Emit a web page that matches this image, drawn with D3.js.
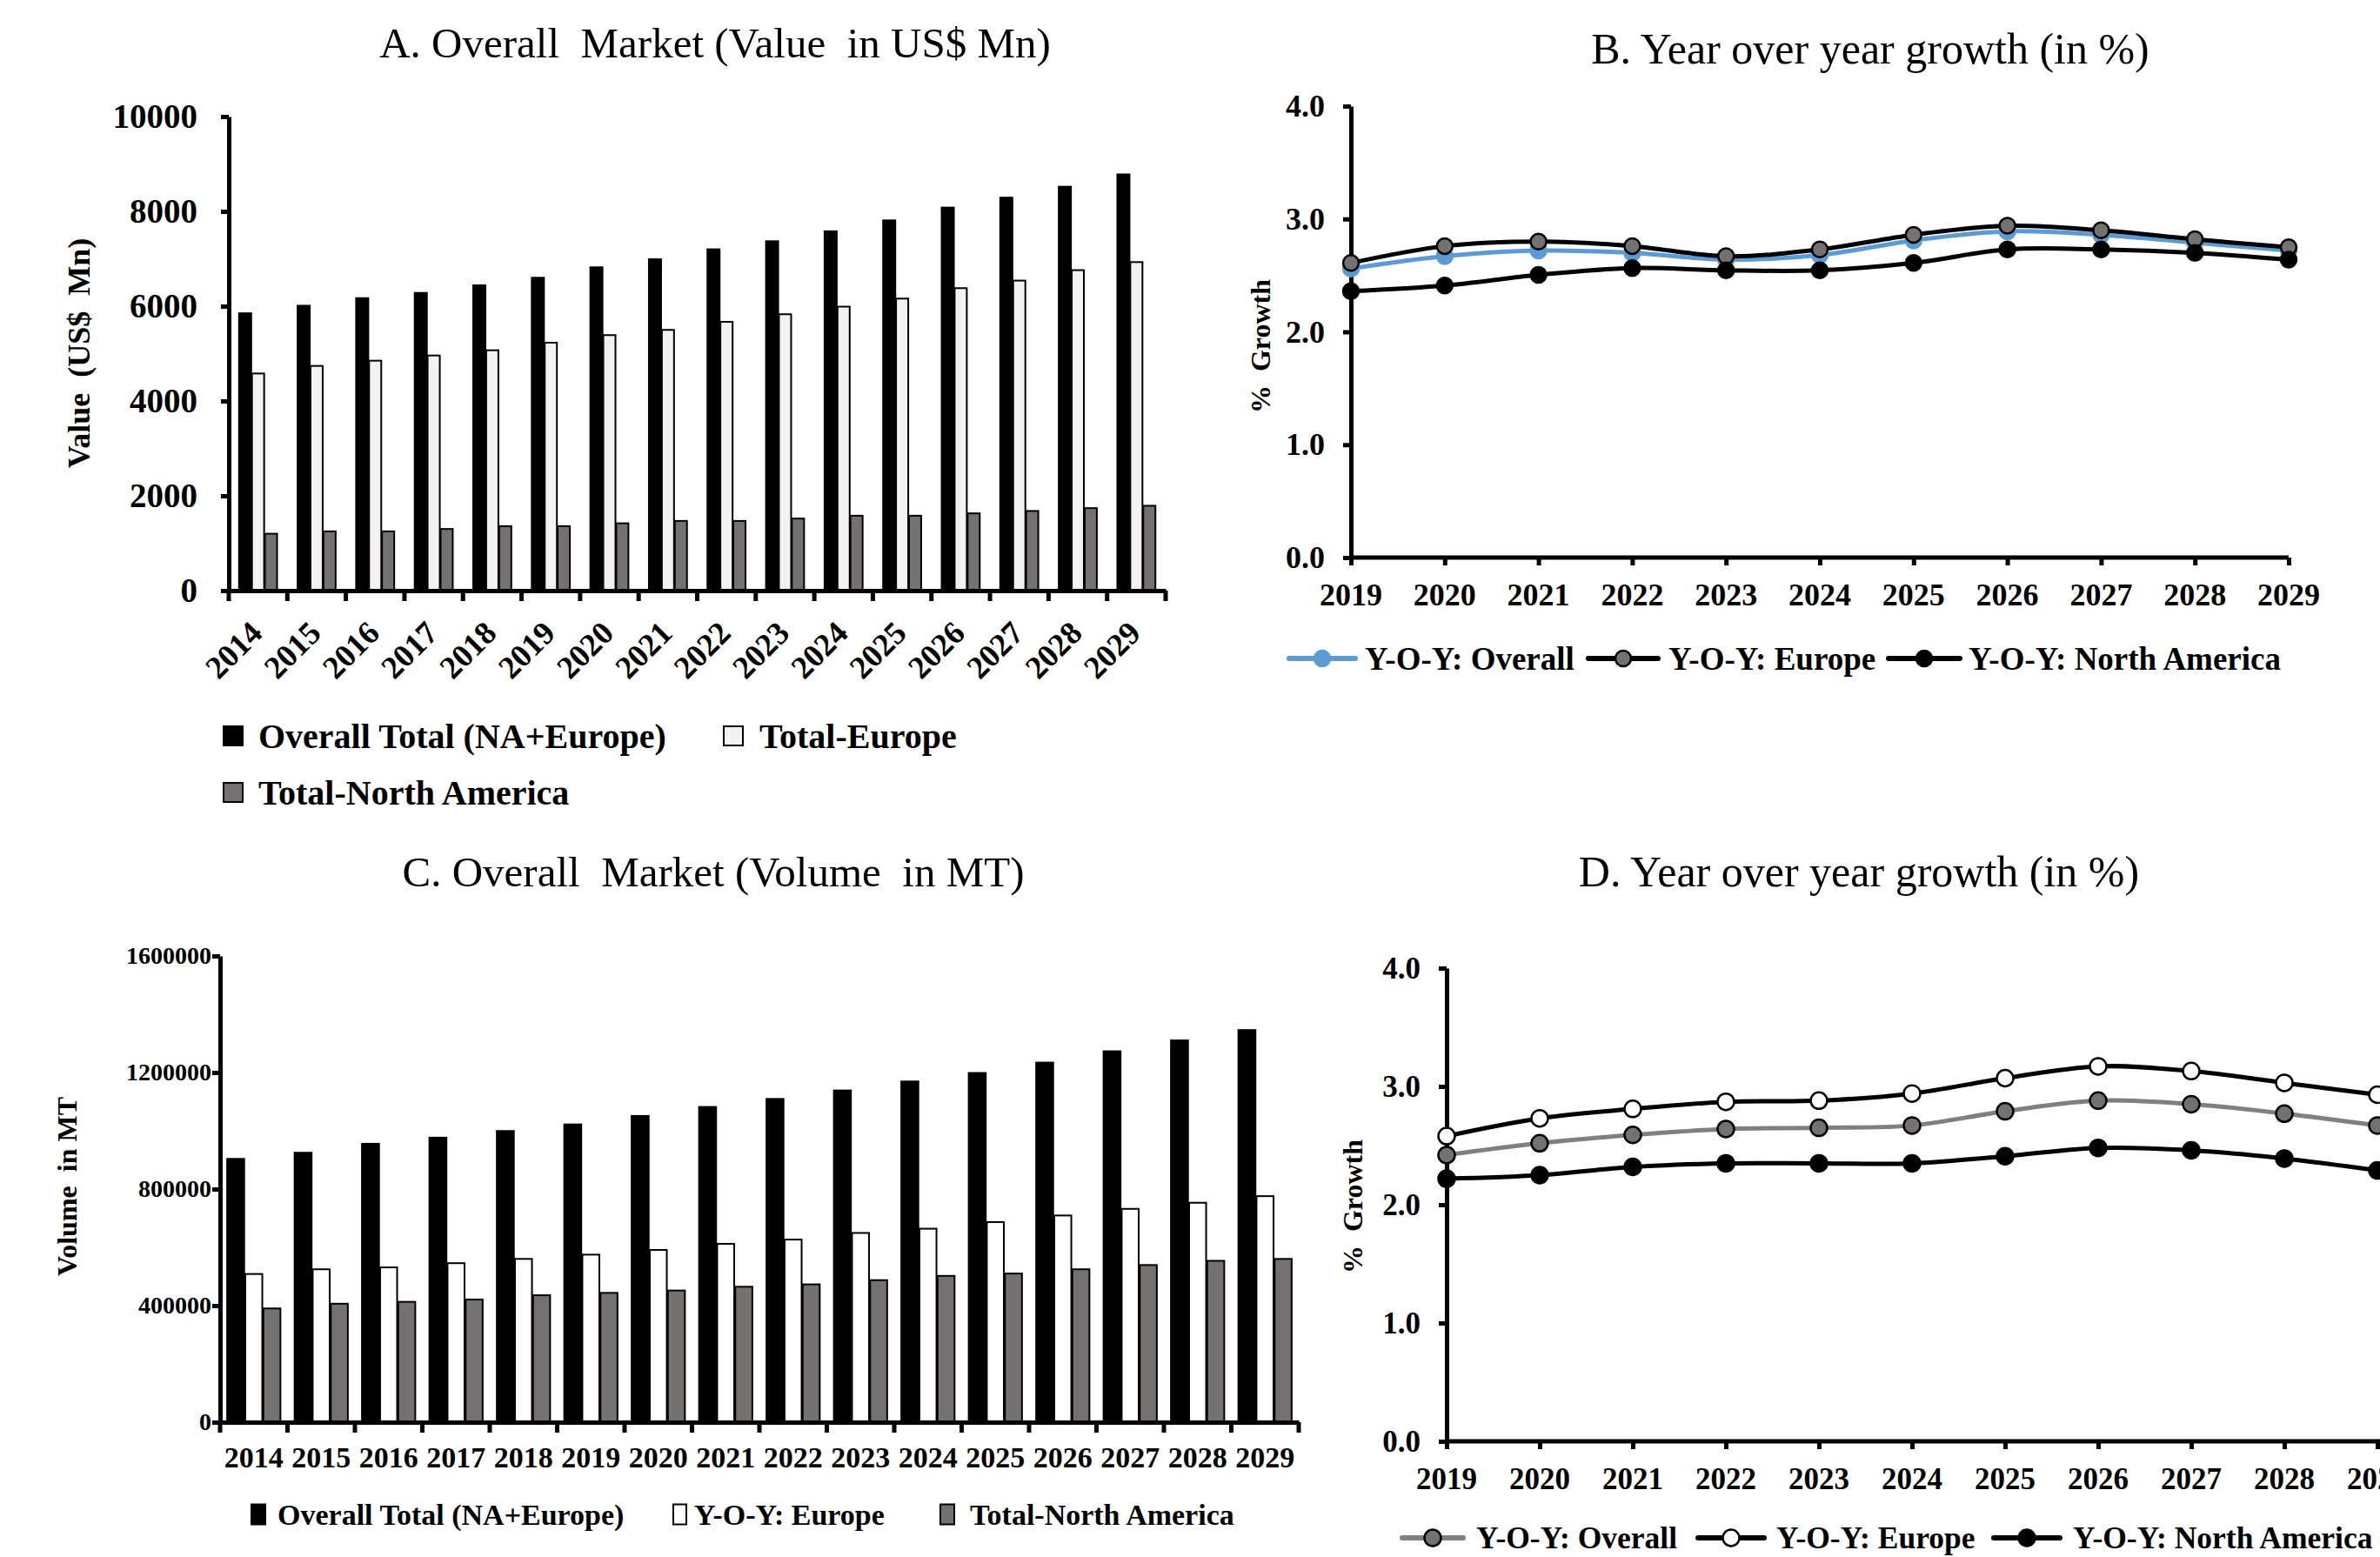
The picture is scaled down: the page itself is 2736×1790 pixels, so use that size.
<!DOCTYPE html>
<html><head><meta charset="utf-8">
<script src="https://cdn.jsdelivr.net/npm/d3@7"></script>
<style>
body{margin:0;background:#fff}
svg{display:block;background:#fff}
text{font-family:'Liberation Serif','Times New Roman',serif;white-space:pre;fill:#000}
</style>
</head><body>
<svg id="c" width="2736" height="1790"></svg>
<script>
// ---------- DATA ----------
const barYears = ["2014","2015","2016","2017","2018","2019","2020","2021","2022","2023","2024","2025","2026","2027","2028","2029"];
const valueOverall = [5850,6010,6170,6280,6440,6600,6820,6990,7200,7370,7580,7810,8080,8290,8520,8780];
const valueEurope  = [4580,4740,4850,4960,5070,5230,5390,5500,5670,5830,5990,6160,6380,6540,6760,6930];
const valueNA      = [1200,1250,1250,1300,1360,1360,1420,1470,1470,1520,1580,1580,1630,1680,1740,1790];
const valueTicks   = [0,2000,4000,6000,8000,10000];

const volumeOverall = [903600,924700,955400,976500,999200,1021800,1051000,1081800,1109300,1138400,1169200,1198400,1234000,1272900,1310100,1345700];
const volumeEurope  = [508500,524700,531200,545700,560300,574900,591100,612100,626700,649400,664000,686600,709300,732000,753000,775700];
const volumeNA      = [390300,406500,413000,421000,435600,443700,451800,464800,472900,487400,502000,510100,524700,539300,553800,560300];
const volumeTicks   = [0,400000,800000,1200000,1600000];

const growthYears = ["2019","2020","2021","2022","2023","2024","2025","2026","2027","2028","2029"];
const gValOverall = [2.56,2.67,2.72,2.70,2.64,2.68,2.81,2.89,2.86,2.79,2.72];
const gValEurope  = [2.61,2.76,2.80,2.76,2.67,2.73,2.86,2.94,2.90,2.82,2.75];
const gValNA      = [2.36,2.41,2.505,2.565,2.545,2.545,2.61,2.73,2.73,2.70,2.64];
const gVolOverall = [2.42,2.52,2.59,2.64,2.65,2.67,2.79,2.88,2.85,2.77,2.67];
const gVolEurope  = [2.58,2.73,2.81,2.87,2.88,2.94,3.07,3.17,3.13,3.03,2.93];
const gVolNA      = [2.22,2.25,2.32,2.35,2.35,2.35,2.41,2.48,2.46,2.39,2.29];
const growthTicks = [0,1,2,3,4];

// ---------- HELPERS ----------
const svg = d3.select("#c");
const FONT = "'Liberation Serif','Times New Roman',serif";
function txt(g, x, y, s, o={}) {
  const t = g.append("text").attr("x", x).attr("y", y).text(s)
    .attr("font-size", o.size || 36)
    .attr("font-weight", o.weight || "bold")
    .attr("text-anchor", o.anchor || "start")
    .attr("dominant-baseline", o.base || "central")
    .attr("font-family", FONT);
  if (o.rotate !== undefined) t.attr("transform", `rotate(${o.rotate},${x},${y})`);
  return t;
}
function styleAxis(g, size, sw) {
  g.attr("font-family", FONT);
  g.select(".domain").attr("stroke", "#000").attr("stroke-width", sw);
  g.selectAll(".tick line").attr("stroke", "#000").attr("stroke-width", sw);
  g.selectAll(".tick text").attr("font-size", size).attr("font-weight", "bold").attr("fill", "#000").attr("font-family", FONT);
}

// ---------- BAR PANEL ----------
function barPanel(cfg) {
  const g = svg.append("g");
  const x = d3.scaleBand().domain(barYears).range([cfg.x0, cfg.x1])
    .paddingInner(cfg.pad).paddingOuter(cfg.pad / 2);
  const sub = d3.scaleBand().domain([0,1,2]).range([0, x.bandwidth()]).paddingInner(0.06);
  const y = d3.scaleLinear().domain([0, cfg.max]).range([cfg.yBot, cfg.yTop]);

  cfg.series.forEach((vals, i) => {
    g.append("g").selectAll("rect").data(barYears).join("rect")
      .attr("x", d => x(d) + sub(i))
      .attr("y", (d, j) => y(vals[j]))
      .attr("width", sub.bandwidth())
      .attr("height", (d, j) => y(0) - y(vals[j]))
      .attr("fill", cfg.fills[i])
      .attr("stroke", "#000").attr("stroke-width", 2);
  });

  // y axis
  const ya = g.append("g").attr("transform", `translate(${cfg.x0},0)`)
    .call(d3.axisLeft(y).tickValues(cfg.ticks).tickSize(9).tickSizeOuter(0)
      .tickPadding(cfg.tickPad).tickFormat(d3.format("d")));
  styleAxis(ya, cfg.yTickSize, 5);

  // x axis line
  const xa = g.append("g").attr("transform", `translate(0,${cfg.yBot})`)
    .call(d3.axisBottom(x).tickSize(0).tickSizeOuter(0).tickFormat(""));
  styleAxis(xa, 10, 5);
  const half = x.step() * x.paddingInner() / 2;
  const bounds = barYears.map(d => x(d) - half).concat([cfg.x1]);
  g.append("g").selectAll("line").data(bounds).join("line")
    .attr("x1", d => d).attr("x2", d => d)
    .attr("y1", cfg.yBot).attr("y2", cfg.yBot + 12)
    .attr("stroke", "#000").attr("stroke-width", 5);

  // x labels
  barYears.forEach(d => {
    const cx = x(d) + x.bandwidth() / 2;
    if (cfg.rotate) {
      txt(g, cx + 7, cfg.yBot + 51, d, {size: cfg.xTickSize, anchor: "end", base: "alphabetic", rotate: -45});
    } else {
      txt(g, cx, cfg.labY, d, {size: cfg.xTickSize, anchor: "middle"});
    }
  });
  // title
  txt(g, cfg.titleX, cfg.titleY, cfg.title, {size: 49, weight: "normal", anchor: "middle"});
  // y label
  txt(g, cfg.yLabX, cfg.yLabY, cfg.yLabel, {size: cfg.yLabSize, anchor: "middle", rotate: -90});
  // legend
  cfg.legend.forEach(l => {
    g.append("rect").attr("x", l.sx).attr("y", l.y - l.sh / 2).attr("width", l.sw).attr("height", l.sh)
      .attr("fill", l.fill).attr("stroke", "#000").attr("stroke-width", 2);
    txt(g, l.tx, l.y, l.label, {size: cfg.legSize});
  });
}

barPanel({
  x0: 263, x1: 1340, yTop: 134, yBot: 679, max: 10000, ticks: valueTicks, pad: 0.35,
  series: [valueOverall, valueEurope, valueNA], fills: ["#000", "#f2f2f2", "#767171"],
  tickPad: 27, yTickSize: 39, xTickSize: 37, rotate: true,
  title: "A. Overall  Market (Value  in US$ Mn)", titleX: 822, titleY: 49,
  yLabel: "Value  (US$  Mn)", yLabX: 91, yLabY: 406, yLabSize: 36, legSize: 40,
  legend: [
    {label: "Overall Total (NA+Europe)", sx: 257, sw: 22, sh: 22, y: 846, tx: 297, fill: "#000"},
    {label: "Total-Europe", sx: 832, sw: 22, sh: 22, y: 846, tx: 873, fill: "#f2f2f2"},
    {label: "Total-North America", sx: 257, sw: 22, sh: 22, y: 911, tx: 297, fill: "#767171"}
  ]
});

barPanel({
  x0: 253, x1: 1493, yTop: 1099, yBot: 1635, max: 1600000, ticks: volumeTicks, pad: 0.21,
  series: [volumeOverall, volumeEurope, volumeNA], fills: ["#000", "#fff", "#767171"],
  tickPad: 1, yTickSize: 28, xTickSize: 34, rotate: false, labY: 1675,
  title: "C. Overall  Market (Volume  in MT)", titleX: 820, titleY: 1002,
  yLabel: "Volume  in MT", yLabX: 77, yLabY: 1364, yLabSize: 32, legSize: 34,
  legend: [
    {label: "Overall Total (NA+Europe)", sx: 289, sw: 16, sh: 23, y: 1741, tx: 319, fill: "#000"},
    {label: "Y-O-Y: Europe", sx: 774, sw: 15, sh: 23, y: 1741, tx: 798, fill: "#fff"},
    {label: "Total-North America", sx: 1081, sw: 16, sh: 23, y: 1741, tx: 1115, fill: "#767171"}
  ]
});

// ---------- LINE PANEL ----------
function linePanel(cfg) {
  const g = svg.append("g");
  const x = d3.scalePoint().domain(growthYears).range([cfg.x0, cfg.x1]);
  const y = d3.scaleLinear().domain([0, 4]).range([cfg.yBot, cfg.yTop]);

  const ya = g.append("g").attr("transform", `translate(${cfg.x0},0)`)
    .call(d3.axisLeft(y).tickValues(growthTicks).tickSize(9).tickSizeOuter(0)
      .tickPadding(21).tickFormat(d3.format(".1f")));
  styleAxis(ya, cfg.tickSize, 5);
  const xa = g.append("g").attr("transform", `translate(0,${cfg.yBot})`)
    .call(d3.axisBottom(x).tickSize(9).tickSizeOuter(0).tickFormat(""));
  xa.select(".domain").attr("d", `M${cfg.x0},0H${cfg.axisEnd}`);
  styleAxis(xa, 10, 5);
  growthYears.forEach(d => txt(g, x(d), cfg.yBot + 43, d, {size: cfg.tickSize, anchor: "middle"}));

  const line = d3.line().x((d, i) => x(growthYears[i])).y(d => y(d)).curve(d3.curveCatmullRom.alpha(0.5));
  cfg.series.forEach(s => {
    g.append("path").attr("d", line(s.vals)).attr("fill", "none")
      .attr("stroke", s.line).attr("stroke-width", 5);
    g.append("g").selectAll("circle").data(s.vals).join("circle")
      .attr("cx", (d, i) => x(growthYears[i])).attr("cy", d => y(d))
      .attr("r", cfg.r).attr("fill", s.fill).attr("stroke", s.stroke).attr("stroke-width", 2.5);
  });

  txt(g, cfg.titleX, cfg.titleY, cfg.title, {size: 50, weight: "normal", anchor: "middle"});
  txt(g, cfg.yLabX, cfg.yLabY, "%  Growth", {size: 32, anchor: "middle", rotate: -90});

  cfg.series.forEach(s => {
    const L = s.leg;
    g.append("line").attr("x1", L.a).attr("x2", L.b).attr("y1", cfg.legY).attr("y2", cfg.legY)
      .attr("stroke", s.line).attr("stroke-width", 6).attr("stroke-linecap", "round");
    g.append("circle").attr("cx", (L.a + L.b) / 2).attr("cy", cfg.legY).attr("r", cfg.r)
      .attr("fill", s.fill).attr("stroke", s.stroke).attr("stroke-width", 2.5);
    txt(g, L.t, cfg.legY, s.label, {size: cfg.legSize});
  });
}

linePanel({
  x0: 1553, x1: 2631, axisEnd: 2631, yTop: 122, yBot: 641, tickSize: 36, r: 9,
  title: "B. Year over year growth (in %)", titleX: 2150, titleY: 56,
  yLabX: 1449, yLabY: 398, legY: 757, legSize: 37,
  series: [
    {label: "Y-O-Y: Overall", vals: gValOverall, line: "#5B9BD5", fill: "#5B9BD5", stroke: "#5B9BD5", leg: {a: 1482, b: 1558, t: 1569}},
    {label: "Y-O-Y: Europe", vals: gValEurope, line: "#000", fill: "#767171", stroke: "#000", leg: {a: 1826, b: 1906, t: 1918}},
    {label: "Y-O-Y: North America", vals: gValNA, line: "#000", fill: "#000", stroke: "#000", leg: {a: 2171, b: 2253, t: 2263}}
  ]
});

linePanel({
  x0: 1663, x1: 2733, axisEnd: 2736, yTop: 1113, yBot: 1657, tickSize: 35, r: 9.5,
  title: "D. Year over year growth (in %)", titleX: 2137, titleY: 1002,
  yLabX: 1555, yLabY: 1387, legY: 1768, legSize: 35.5,
  series: [
    {label: "Y-O-Y: Overall", vals: gVolOverall, line: "#7F7F7F", fill: "#767171", stroke: "#000", leg: {a: 1612, b: 1682, t: 1697}},
    {label: "Y-O-Y: Europe", vals: gVolEurope, line: "#000", fill: "#fff", stroke: "#000", leg: {a: 1952, b: 2028, t: 2042}},
    {label: "Y-O-Y: North America", vals: gVolNA, line: "#000", fill: "#000", stroke: "#000", leg: {a: 2292, b: 2368, t: 2383}}
  ]
});
</script>
</body></html>
